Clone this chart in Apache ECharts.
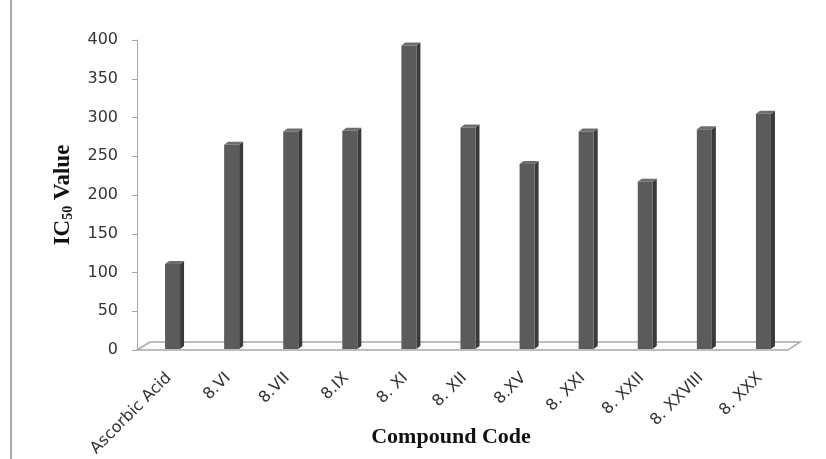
<!DOCTYPE html>
<html><head><meta charset="utf-8">
<script src="https://cdn.jsdelivr.net/npm/echarts@6/dist/echarts.min.js"></script>
<style>html,body{margin:0;padding:0;background:#fff}#c{width:826px;height:459px}</style>
</head><body><div id="c"></div>
<script>
const categories = ['Ascorbic Acid','8.VI','8.VII','8.IX','8. XI','8. XII','8.XV','8. XXI','8. XXII','8. XXVIII','8. XXX'];
const ic50Values = [111, 265, 282, 283, 393, 287, 240, 282, 217, 285, 305];
const yMin = 0, yMax = 400, yStep = 50;

const W = 826, H = 459;
const GRID = {left: 143, right: 33, top: 40, bottom: 109, containLabel: false, outerBoundsMode: 'none'};
const chart = echarts.init(document.getElementById('c'), null, {renderer: 'canvas'});

function renderBar(params, api) {
  const top = api.coord([api.value(0), api.value(1)]);
  const base = api.coord([api.value(0), 0]);
  const w = 15, d = 4, h = 3;
  const x0 = top[0] - w / 2, x1 = x0 + w;
  const yT = top[1], yB = base[1] - 1;
  return {type: 'group', children: [
    {type: 'polygon', shape: {points: [[x1, yT], [x1 + d, yT - h], [x1 + d, yB - h], [x1, yB]]}, style: {fill: '#3a3a3a'}},
    {type: 'polygon', shape: {points: [[x0, yT], [x0 + d, yT - h], [x1 + d, yT - h], [x1, yT]]}, style: {fill: '#6e6e6e'}},
    {type: 'rect', shape: {x: x0, y: yT, width: w, height: yB - yT}, style: {fill: '#5b5b5b'}}
  ]};
}

chart.setOption({
  animation: false,
  backgroundColor: '#fff',
  grid: GRID,
  xAxis: {
    type: 'category',
    data: categories,
    axisLine: {show: false},
    axisTick: {show: false},
    axisLabel: {rotate: 45, margin: 22, padding: [0, 5, 0, 0], interval: 0, fontFamily: 'DejaVu Sans', fontSize: 16, color: '#333'},
    name: 'Compound Code',
    nameLocation: 'middle',
    nameGap: 76,
    nameMoveOverlap: false,
    nameTextStyle: {fontFamily: 'Liberation Serif', fontWeight: 'bold', fontSize: 22, color: '#111', padding: [0, 34, 0, 0]}
  },
  yAxis: {
    type: 'value',
    min: yMin, max: yMax, interval: yStep,
    offset: 6,
    splitLine: {show: false},
    axisLine: {show: true, lineStyle: {color: '#a6a6a6', width: 1}},
    axisTick: {show: true, length: 5, lineStyle: {color: '#a6a6a6'}},
    axisLabel: {margin: 19, fontFamily: 'DejaVu Sans', fontSize: 16, color: '#333'},
    name: '{a|IC}{s|50}{a| Value}',
    nameLocation: 'middle',
    nameGap: 62,
    nameMoveOverlap: false,
    nameTextStyle: {
      rich: {
        a: {fontFamily: 'Liberation Serif', fontWeight: 'bold', fontSize: 23, color: '#111'},
        s: {fontFamily: 'Liberation Serif', fontWeight: 'bold', fontSize: 14, color: '#111', verticalAlign: 'bottom', padding: [8, 0, 0, 0]}
      }
    }
  },
  series: [{
    type: 'custom',
    z: 5,
    renderItem: renderBar,
    encode: {x: 0, y: 1},
    data: categories.map((c, i) => [i, ic50Values[i]])
  }]
});

const y0 = chart.convertToPixel({yAxisIndex: 0}, 0);
const gx0 = GRID.left, gx1 = W - GRID.right;
chart.setOption({
  graphic: [
    {type: 'polygon', z: 0, shape: {points: [[gx0 - 6, y0], [gx1 - 5, y0], [gx1 + 7, y0 - 8], [gx0 + 7, y0 - 8]]},
     style: {fill: '#fbfbfb', stroke: '#a8a8a8', lineWidth: 1.5}},
    {type: 'line', z: 0, shape: {x1: 11, y1: 0, x2: 11, y2: H}, style: {stroke: '#8c8c8c', lineWidth: 1.5}}
  ]
});
</script></body></html>
